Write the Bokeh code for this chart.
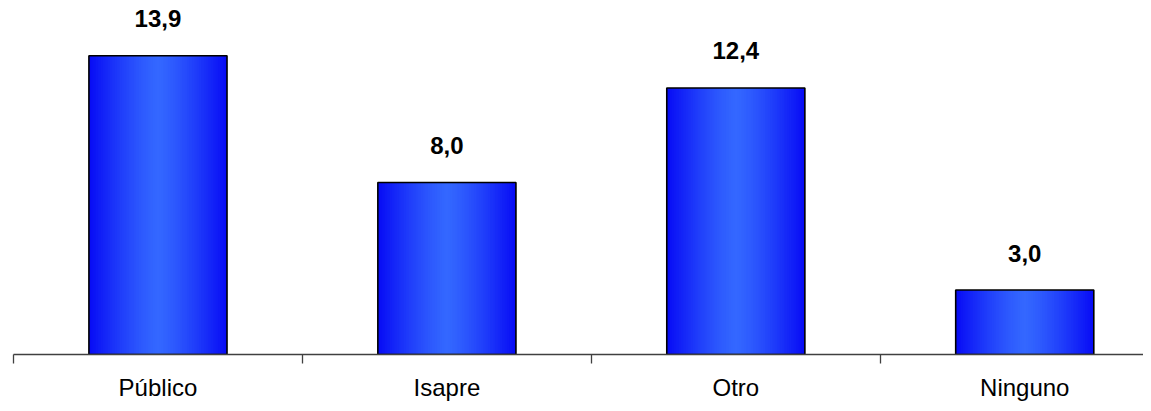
from bokeh.plotting import figure
from bokeh.models import ColumnDataSource, FixedTicker, Range1d
from bokeh.core.properties import value
from bokeh.embed import file_html
from bokeh.resources import INLINE

categories = ["Público", "Isapre", "Otro", "Ninguno"]
values = [13.9, 8.0, 12.4, 3.0]
value_labels = ["13,9", "8,0", "12,4", "3,0"]

BAR_W = 0.478
N_LAYERS = 40
EDGE = (8, 12, 245)
CENTER = (52, 104, 255)

p = figure(width=1143, height=403, output_backend="svg", toolbar_location=None,
           x_range=Range1d(0, 3.911), y_range=Range1d(0, 16.47),
           min_border_left=13, min_border_right=0, min_border_top=0, min_border_bottom=49)
p.outline_line_color = None
p.background_fill_color = "white"
p.border_fill_color = "white"
p.xgrid.visible = False
p.ygrid.visible = False
p.yaxis.visible = False

centers = [i + 0.5 for i in range(len(categories))]

# horizontal gradient: nested bars from edge colour (widest) to centre colour (narrowest)
gx, gtop, gw, gcol = [], [], [], []
for c, v in zip(centers, values):
    for k in range(N_LAYERS):
        frac = 1 - k / N_LAYERS
        t = frac ** 1.3
        col = tuple(int(round(CENTER[m] + (EDGE[m] - CENTER[m]) * t)) for m in range(3))
        gx.append(c)
        gtop.append(v)
        gw.append(BAR_W * frac)
        gcol.append("#%02x%02x%02x" % col)
p.vbar(x="x", top="top", width="w", bottom=0, color="c",
       source=ColumnDataSource(dict(x=gx, top=gtop, w=gw, c=gcol)), line_color=None)

src = ColumnDataSource(dict(x=centers, top=values, lab=value_labels))
p.vbar(x="x", top="top", width=BAR_W, bottom=0, source=src,
       fill_alpha=0, line_color="#000000", line_width=1.6)

p.text(x="x", y="top", text="lab", source=src, text_align="center",
       text_baseline="middle", y_offset=-37, text_font=value("Liberation Sans"),
       text_font_style="bold", text_font_size="24px", text_color="#000000")

ax = p.xaxis[0]
ax.ticker = FixedTicker(ticks=centers, minor_ticks=list(range(len(categories))))
ax.major_label_overrides = {c: name for c, name in zip(centers, categories)}
ax.major_tick_out = 0
ax.major_tick_in = 0
ax.minor_tick_out = 9
ax.minor_tick_in = 0
ax.minor_tick_line_color = "#404040"
ax.minor_tick_line_width = 1.3
ax.axis_line_color = "#404040"
ax.axis_line_width = 1.3
ax.major_label_standoff = 10
ax.major_label_text_font = "Liberation Sans"
ax.major_label_text_font_size = "24px"
ax.major_label_text_color = "#000000"

open("out.html", "w").write(file_html(p, INLINE))
